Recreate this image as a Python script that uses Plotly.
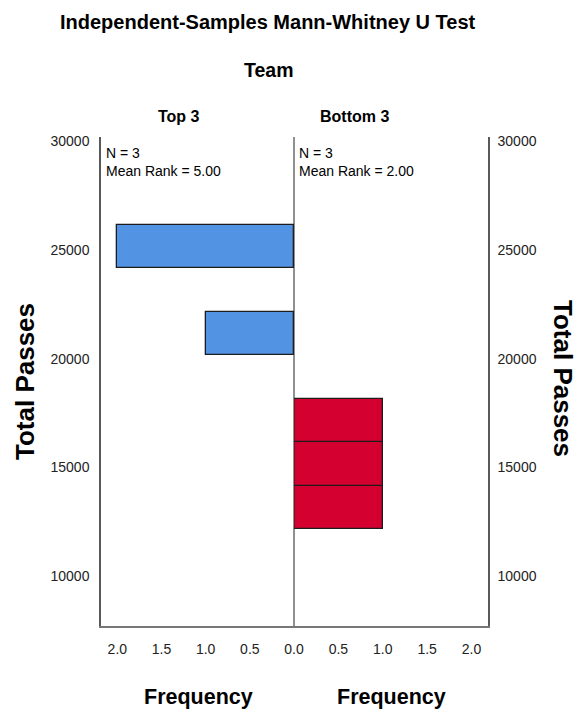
import plotly.graph_objects as go

# Histogram bins of Total Passes (lower edge of each bin) and their counts
bin_width = 2000
top3_bin_start = [20150, 24150]
top3_freq = [1, 2]
bottom3_bin_start = [12150, 14150, 16150]
bottom3_freq = [1, 1, 1]

group_names = ["Top 3", "Bottom 3"]
group_n = [3, 3]
group_mean_rank = [5.00, 2.00]

y_ticks = [10000, 15000, 20000, 25000, 30000]
x_ticks_left = [0.5, 1.0, 1.5, 2.0]
x_ticks_right = [0.0, 0.5, 1.0, 1.5, 2.0]

FONT = "Liberation Sans, Arial, sans-serif"
W, H = 577, 715


def px(x):
    return x / W


def py(y):
    return 1 - y / H


top3_centers = [s + bin_width / 2 for s in top3_bin_start]
bottom3_centers = [s + bin_width / 2 for s in bottom3_bin_start]

fig = go.Figure()
fig.add_trace(go.Bar(
    x=top3_freq, y=top3_centers, width=[bin_width] * len(top3_freq),
    orientation="h", xaxis="x", yaxis="y",
    marker=dict(color="#5393E3", line=dict(color="#1c1c1c", width=1.3)),
    showlegend=False, hoverinfo="x+y",
))
fig.add_trace(go.Bar(
    x=bottom3_freq, y=bottom3_centers, width=[bin_width] * len(bottom3_freq),
    orientation="h", xaxis="x2", yaxis="y2",
    marker=dict(color="#D4002F", line=dict(color="#1c1c1c", width=1.3)),
    showlegend=False, hoverinfo="x+y",
))

x_range_max = 2.185
y_range = [7700, 30200]
line_col = "#5a5a5a"
tick_font = dict(family=FONT, size=14, color="#222")

common_x = dict(
    tickfont=tick_font, showgrid=False, zeroline=False, showline=True,
    linecolor="#777", linewidth=2, ticks="", ticklabelstandoff=9,
    fixedrange=True, automargin=False,
)
common_y = dict(
    range=y_range, tickvals=y_ticks, ticktext=[str(v) for v in y_ticks],
    tickfont=tick_font, showgrid=False, zeroline=False, showline=True,
    linecolor=line_col, linewidth=1.5, ticks="", fixedrange=True, automargin=False,
)

fig.update_layout(
    width=W, height=H, margin=dict(l=0, r=0, t=0, b=0),
    paper_bgcolor="white", plot_bgcolor="white",
    bargap=0,
    xaxis=dict(domain=[px(101), px(294)], range=[x_range_max, 0], anchor="y",
               tickvals=x_ticks_left, ticktext=[f"{v:.1f}" for v in x_ticks_left], **common_x),
    xaxis2=dict(domain=[px(294), px(488)], range=[0, x_range_max], anchor="y2",
                tickvals=x_ticks_right, ticktext=[f"{v:.1f}" for v in x_ticks_right], **common_x),
    yaxis=dict(domain=[py(626), py(137)], anchor="x", side="left", ticklabelstandoff=7, **common_y),
    yaxis2=dict(domain=[py(626), py(137)], anchor="x2", side="right", matches="y",
                ticklabelstandoff=5, **common_y),
)

# Divider between the two groups
fig.add_shape(type="line", xref="x2 domain", yref="y2 domain", x0=0, x1=0, y0=0, y1=1,
              line=dict(color="#222", width=1))

ann = []


def text(x, y, s, size, bold=False, angle=0, xanchor="center", yanchor="middle"):
    ann.append(dict(
        x=x, y=y, xref="paper", yref="paper", text=f"<b>{s}</b>" if bold else s,
        showarrow=False, textangle=angle, xanchor=xanchor, yanchor=yanchor,
        font=dict(family=FONT, size=size, color="#000"),
    ))


text(px(267.5), py(22), "Independent-Samples Mann-Whitney U Test", 20, bold=True)
text(px(269), py(70), "Team", 19.5, bold=True)
text(px(179), py(117), group_names[0], 16, bold=True)
text(px(354), py(117), group_names[1], 16, bold=True)

for left, n, mr in [(104, group_n[0], group_mean_rank[0]), (297, group_n[1], group_mean_rank[1])]:
    text(px(left), py(153), f"N = {n}", 14, xanchor="left")
    text(px(left), py(171), f"Mean Rank = {mr:.2f}", 14, xanchor="left")

text(px(198.5), py(697), "Frequency", 21.5, bold=True)
text(px(391), py(697), "Frequency", 21.5, bold=True)
text(px(25), py(382), "Total Passes", 26, bold=True, angle=-90)
text(px(563), py(378), "Total Passes", 26, bold=True, angle=90)

fig.update_layout(annotations=ann)
fig.write_html("out.html")
